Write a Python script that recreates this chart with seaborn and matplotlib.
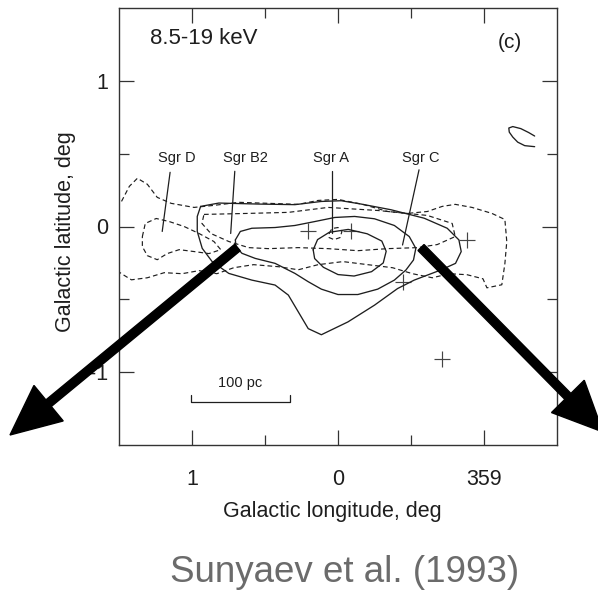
import numpy as np
import pandas as pd
import matplotlib
matplotlib.use("Agg")
import matplotlib.pyplot as plt
from matplotlib.patches import FancyArrow
import seaborn as sns

# ---------------- data (galactic longitude l, latitude b in degrees) ----------------
# solid contours
solid_inner_l = [0.17, 0.14, 0.06, -0.07, -0.20, -0.30, -0.33, -0.31, -0.23, -0.11, 0.00, 0.10, 0.16, 0.17]
solid_inner_b = [-0.16, -0.09, -0.04, -0.02, -0.05, -0.10, -0.17, -0.25, -0.31, -0.34, -0.33, -0.28, -0.22, -0.16]

solid_mid_l = [0.703, 0.669, 0.590, 0.431, 0.295, 0.159, 0.022, -0.114, -0.250, -0.386, -0.488, -0.533,
               -0.517, -0.465, -0.386, -0.272, -0.136, 0.0, 0.114, 0.204, 0.295, 0.431, 0.567, 0.658, 0.699, 0.703]
solid_mid_b = [-0.092, -0.034, -0.012, -0.007, 0.007, 0.034, 0.062, 0.069, 0.053, 0.007, -0.069, -0.150,
               -0.230, -0.299, -0.368, -0.430, -0.467, -0.467, -0.430, -0.379, -0.322, -0.253, -0.219, -0.184, -0.138, -0.092]

solid_outer_l = [0.941, 0.816, 0.544, 0.295, 0.114, -0.022, -0.159, -0.363, -0.590, -0.748, -0.828, -0.844,
                 -0.805, -0.703, -0.522, -0.408, -0.250, -0.068, 0.114, 0.204, 0.272, 0.340, 0.431, 0.590,
                 0.748, 0.862, 0.930, 0.964, 0.964, 0.941]
solid_outer_b = [0.138, 0.161, 0.154, 0.150, 0.172, 0.177, 0.154, 0.115, 0.057, -0.012, -0.092, -0.172,
                 -0.253, -0.299, -0.368, -0.426, -0.540, -0.655, -0.743, -0.701, -0.586, -0.471, -0.402, -0.368,
                 -0.322, -0.241, -0.150, -0.034, 0.069, 0.138]

solid_arc_l = [-1.347, -1.306, -1.252, -1.197, -1.170, -1.173, -1.197, -1.231, -1.279, -1.347]
solid_arc_b = [0.621, 0.645, 0.672, 0.686, 0.676, 0.648, 0.614, 0.579, 0.555, 0.548]

# dashed contours
dash_outer_l = [1.551, 1.483, 1.429, 1.374, 1.306, 1.238, 1.143, 0.986, 0.850, 0.680, 0.476, 0.272, 0.136, 0.0,
                -0.170, -0.340, -0.476, -0.612, -0.714, -0.803, -0.918, -1.054, -1.143, -1.156, -1.143, -1.122,
                -1.020, -0.993, -0.884, -0.762, -0.646, -0.510, -0.374, -0.204, -0.034, 0.136, 0.272, 0.408,
                0.578, 0.714, 0.830, 0.952, 1.068, 1.190, 1.306, 1.415, 1.483, 1.551]
dash_outer_b = [0.090, 0.172, 0.276, 0.331, 0.290, 0.200, 0.159, 0.131, 0.145, 0.166, 0.159, 0.152, 0.179, 0.186,
                0.152, 0.103, 0.090, 0.103, 0.138, 0.152, 0.131, 0.090, 0.048, -0.103, -0.255, -0.400,
                -0.421, -0.359, -0.331, -0.324, -0.352, -0.324, -0.283, -0.262, -0.241, -0.262, -0.297, -0.276,
                -0.262, -0.283, -0.324, -0.303, -0.324, -0.317, -0.352, -0.366, -0.324, -0.276]

dash_sgrd_l = [1.340, 1.320, 1.245, 1.156, 1.054, 0.952, 0.850, 0.803, 0.884, 0.986, 1.088, 1.170, 1.238, 1.306, 1.340, 1.340]
dash_sgrd_b = [-0.069, 0.021, 0.055, 0.034, 0.0, -0.048, -0.103, -0.159, -0.186, -0.172, -0.159, -0.186, -0.228, -0.200, -0.138, -0.069]

dash_mid_l = [0.918, 0.612, 0.340, 0.068, -0.272, -0.612, -0.782, -0.803, -0.680, -0.544, -0.340, -0.136,
              0.068, 0.272, 0.476, 0.612, 0.748, 0.871, 0.932, 0.918]
dash_mid_b = [0.083, 0.090, 0.097, 0.131, 0.110, 0.076, 0.021, -0.069, -0.124, -0.145, -0.152, -0.166,
              -0.152, -0.145, -0.152, -0.145, -0.103, -0.048, 0.021, 0.083]

dash_core_l = [0.061, 0.041, 0.0, -0.027, -0.014, 0.027, 0.061, 0.061]
dash_core_b = [-0.048, -0.014, -0.007, -0.034, -0.076, -0.090, -0.076, -0.048]

# point sources (+)
src_l = [0.204, -0.090, -0.884, -0.442, -0.714]
src_b = [-0.034, -0.034, -0.092, -0.379, -0.908]

# source labels
sgr_names = ["Sgr D", "Sgr B2", "Sgr A", "Sgr C"]
sgr_text_l = [1.102, 0.633, 0.048, -0.565]
sgr_line_l0 = [1.150, 0.707, 0.041, -0.555]
sgr_line_l1 = [1.204, 0.735, 0.041, -0.442]
sgr_line_b0 = [0.372, 0.379, 0.379, 0.389]
sgr_line_b1 = [-0.034, -0.048, -0.048, -0.127]

# axis ticks
xtick_vals = [1, 0, -1]
xtick_labels = ["1", "0", "359"]
ytick_vals = [1, 0, -1]
ytick_labels = ["1", "0", "-1"]

# ---------------- style ----------------
sns.set_theme(style="ticks")
plt.rcParams["font.family"] = ["Liberation Sans", "DejaVu Sans"]
INK = "#1e1e1e"

fig = plt.figure(figsize=(5.98, 5.94), dpi=100)
ax = fig.add_axes([119 / 598, 1 - 445 / 594, (557 - 119) / 598, (445 - 8) / 594])
ax.set_facecolor("white")

def draw(l, b, dashed=False):
    df = pd.DataFrame({"l": l, "b": b})
    kw = dict(color=INK, linewidth=0.95)
    if dashed:
        kw["linestyle"] = (0, (4, 2.6))
        kw["linewidth"] = 0.85
    sns.lineplot(data=df, x="l", y="b", sort=False, estimator=None, ax=ax, legend=False, **kw)

for l, b in [(solid_inner_l, solid_inner_b), (solid_mid_l, solid_mid_b),
             (solid_outer_l, solid_outer_b), (solid_arc_l, solid_arc_b)]:
    draw(l, b)
for l, b in [(dash_outer_l, dash_outer_b), (dash_sgrd_l, dash_sgrd_b),
             (dash_mid_l, dash_mid_b), (dash_core_l, dash_core_b)]:
    draw(l, b, dashed=True)

sns.scatterplot(x=src_l, y=src_b, marker="+", s=120, color="#444444", linewidth=0.85, ax=ax, legend=False)

for name, tl, l0, l1, b0, b1 in zip(sgr_names, sgr_text_l, sgr_line_l0, sgr_line_l1, sgr_line_b0, sgr_line_b1):
    ax.text(tl, 0.47, name, ha="center", va="center", fontsize=10.5, color=INK)
    ax.plot([l0, l1], [b0, b1], color=INK, linewidth=0.9)

# scale bar
ax.plot([1.009, 1.009, 0.329, 0.329], [-1.16, -1.207, -1.207, -1.16], color=INK, linewidth=0.9)
ax.text(0.669, -1.075, "100 pc", ha="center", va="center", fontsize=10.5, color=INK)

ax.text(1.29, 1.29, "8.5-19 keV", ha="left", va="center", fontsize=16, color=INK)
ax.text(-1.177, 1.262, "(c)", ha="center", va="center", fontsize=15, color=INK)

ax.set_xlim(1.5, -1.5)
ax.set_ylim(-1.5, 1.5)
ax.set_xticks(xtick_vals)
ax.set_xticklabels(xtick_labels)
ax.set_yticks(ytick_vals)
ax.set_yticklabels(ytick_labels)
ax.set_xticks([0.5, -0.5], minor=True)
ax.set_yticks([0.5, -0.5], minor=True)
ax.tick_params(which="both", direction="in", top=True, right=True, color="#333333", width=0.9)
ax.tick_params(which="major", length=11)
ax.tick_params(which="minor", length=7)
ax.tick_params(axis="x", which="major", pad=17, labelsize=15.5, labelcolor=INK)
ax.tick_params(axis="y", which="major", pad=8, labelsize=15.5, labelcolor=INK)
for s in ax.spines.values():
    s.set_color("#333333")
    s.set_linewidth(1.0)

ax.set_xlabel("Galactic longitude, deg", fontsize=15.5, color=INK)
ax.set_ylabel("Galactic latitude, deg", fontsize=15.5, color=INK)
ax.xaxis.set_label_coords((332 - 119) / 438, -(512 - 445) / 437)
ax.xaxis.label.set_va("center")
ax.yaxis.set_label_coords((66 - 119) / 438, (445 - 232) / 437)
ax.yaxis.label.set_va("center")

fig.text(345 / 598, 1 - 573 / 594, "Sunyaev et al. (1993)", ha="center", va="center",
         fontsize=26.5, color="#6b6b6b")

# overlay arrows (figure inches)
for (x0, y0, x1, y1) in [(2.375, 5.94 - 2.475, 0.10, 5.94 - 4.35), (4.21, 5.94 - 2.475, 6.03, 5.94 - 4.32)]:
    fig.add_artist(FancyArrow(x0, y0, x1 - x0, y1 - y0, width=0.085, head_width=0.46, head_length=0.50,
                              length_includes_head=True, color="black", transform=fig.dpi_scale_trans,
                              clip_on=False))

fig.savefig("out.png", dpi=100)
